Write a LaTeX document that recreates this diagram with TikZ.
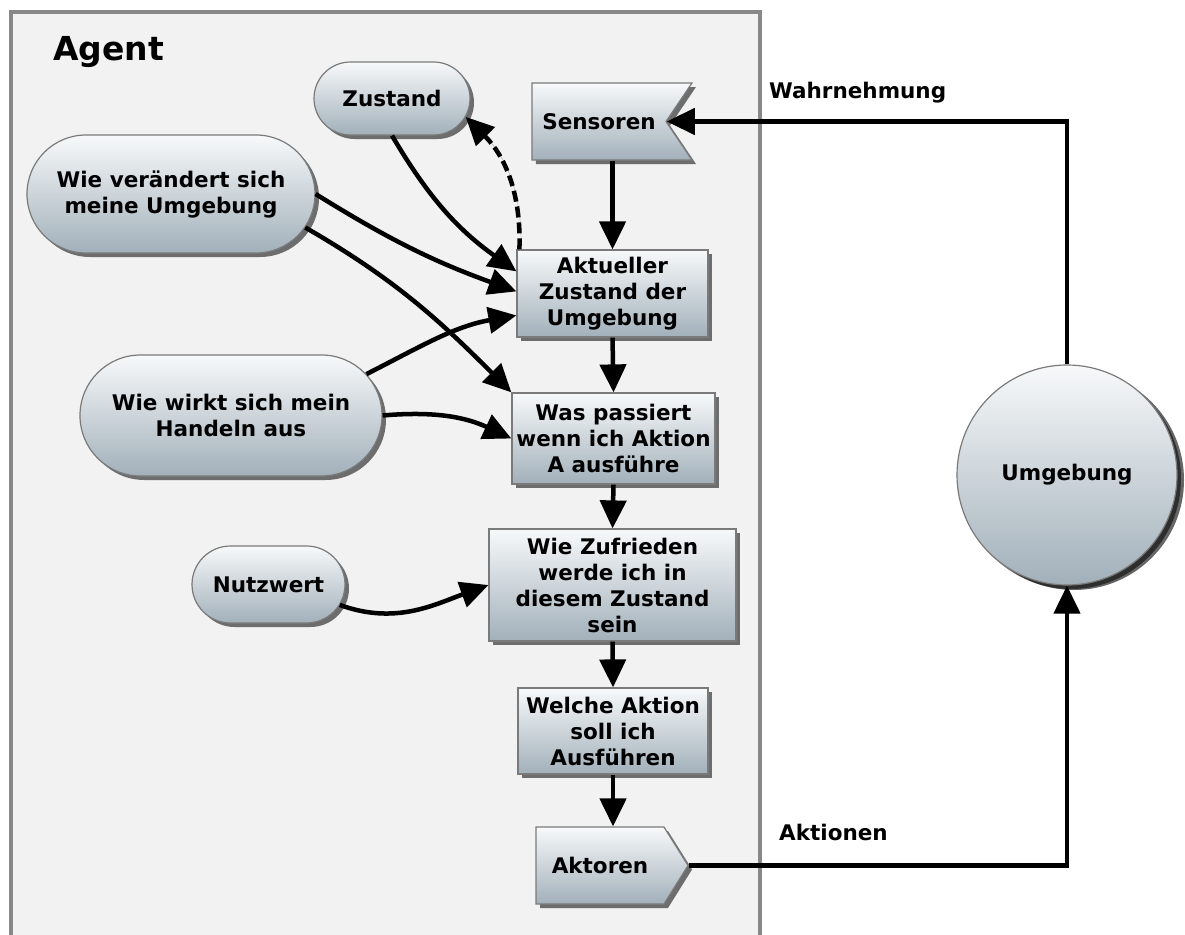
\documentclass[tikz,border=0pt]{standalone}
\usepackage{fontspec}
\setmainfont{DejaVu Sans}
\usetikzlibrary{arrows.meta,shapes.misc,shapes.symbols,shadows}

\definecolor{panel}{HTML}{F2F2F2}
\definecolor{panelline}{HTML}{888888}
\definecolor{boxtop}{HTML}{F7F9FA}
\definecolor{boxbot}{HTML}{A2B0BA}
\definecolor{boxline}{HTML}{7A7A7A}

\begin{document}
\begin{tikzpicture}[x=1pt,y=1pt,
  base/.style={draw=boxline, line width=1.2pt, top color=boxtop, bottom color=boxbot,
    align=center, font=\bfseries\fontsize{21.5}{26}\selectfont, inner sep=0pt,
    drop shadow={shadow xshift=4pt, shadow yshift=-4pt, opacity=0.55, fill=black}},
  box/.style={base, rectangle},
  pill/.style={base, rounded rectangle},
  flow/.style={line width=4.5pt, -{Triangle[length=28pt,width=26pt]},
    preaction={draw=black!35, transform canvas={shift={(1.5pt,-1.5pt)}}}},
  lbl/.style={font=\bfseries\fontsize{21.5}{26}\selectfont, anchor=base west, inner sep=0pt}
]
\useasboundingbox (0,0) rectangle (1185,-934);
\fill[white] (0,0) rectangle (1185,-934);

% agent frame
\begin{scope}
\clip (0,0) rectangle (1185,-934);
\draw[draw=panelline, fill=panel, line width=4pt] (11,-12) rectangle (760,-960);
\end{scope}
\node[font=\bfseries\fontsize{33}{38}\selectfont, anchor=base west, inner sep=0pt] (agent) at (53,-60) {Agent};

% knowledge nodes
\node[pill, minimum width=156pt, minimum height=73pt] (zus) at (392,-98.5) {Zustand};
\node[pill, minimum width=288pt, minimum height=118pt] (ver) at (171,-194) {Wie verändert sich\\meine Umgebung};
\node[pill, minimum width=302pt, minimum height=121pt] (wirkt) at (231,-415.5) {Wie wirkt sich mein\\Handeln aus};
\node[pill, minimum width=153pt, minimum height=77pt] (nutz) at (268.5,-584.5) {Nutzwert};

% processing chain
\node[base, signal, signal from=east, signal to=nowhere, signal pointer angle=112,
  minimum width=160pt, minimum height=77pt] (sens) at (599,-121.5) {Sensoren};
\node[box, minimum width=191pt, minimum height=87pt] (akt) at (612.5,-293.5) {Aktueller\\Zustand der\\Umgebung};
\node[box, minimum width=203pt, minimum height=91pt] (was) at (613.5,-438.5) {Was passiert\\wenn ich Aktion\\A ausführe};
\node[box, minimum width=247pt, minimum height=112pt] (zuf) at (612.5,-585) {Wie Zufrieden\\werde ich in\\diesem Zustand\\sein};
\node[box, minimum width=190pt, minimum height=86pt] (wel) at (613,-731) {Welche Aktion\\soll ich\\Ausführen};
\node[base, signal, signal to=east, signal pointer angle=116,
  minimum width=152pt, minimum height=77pt] (aktor) at (600,-865.5) {Aktoren};

% environment
\node[base, circle, minimum size=220pt,
  drop shadow={shadow xshift=7pt, shadow yshift=-5pt, opacity=0.6, fill=black}] (umg) at (1067,-475) {Umgebung};

\node[lbl] (wahr) at (769,-98) {Wahrnehmung};
\node[lbl] (aktn) at (779,-840) {Aktionen};

% main flow
\draw[flow] (sens.south -| akt.north) -- (akt.north);
\draw[flow] (akt.south) -- (was.north);
\draw[flow] (was.south) -- (zuf.north);
\draw[flow] (zuf.south) -- (wel.north);
\draw[flow] (wel.south) -- (wel.south |- aktor.north);

% loop through the environment
\draw[flow] (umg.north) |- (sens.east);
\draw[flow] (aktor.east) -| (umg.south);

% knowledge feeding the chain
\draw[flow] (zus.south) to[bend right=12] ([yshift=-22pt]akt.north west);
\draw[flow, dash pattern=on 11pt off 5pt] ([xshift=3pt]akt.north west) to[out=88,in=-45] (zus.-14);
\draw[flow] (ver.east) to[bend right=6] ([yshift=-42pt]akt.north west);
\draw[flow] (ver.-14) to[out=-30,in=135] (was.north west);
\draw[flow] (wirkt.17) to[out=27,in=190] ([yshift=-66pt]akt.north west);
\draw[flow] (wirkt.east) to[out=5,in=155] (was.west);
\draw[flow] (nutz.-16) to[out=-20,in=200] (zuf.west);
\end{tikzpicture}
\end{document}
